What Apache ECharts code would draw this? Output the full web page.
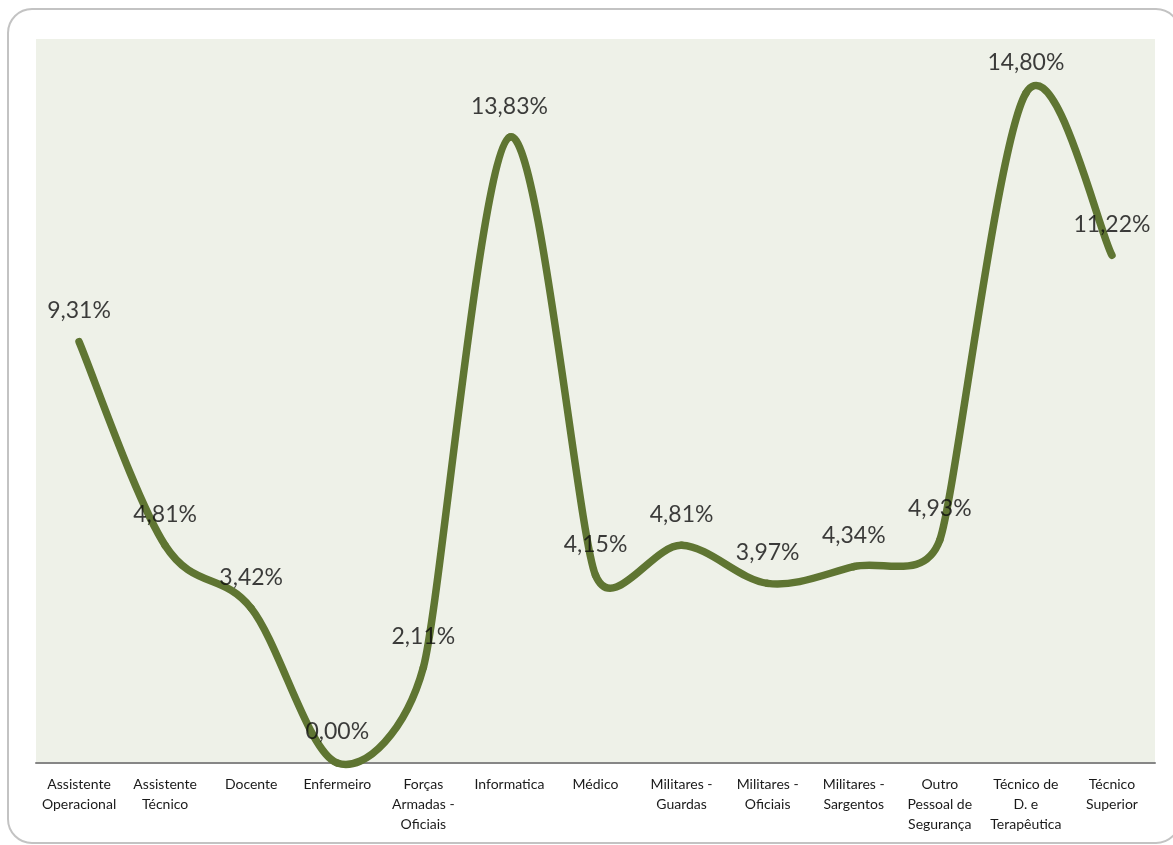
<!DOCTYPE html>
<html>
<head>
<meta charset="utf-8">
<script src="https://cdn.jsdelivr.net/npm/echarts@6/dist/echarts.min.js"></script>
<style>
html,body{margin:0;padding:0;background:#fff;}
#chart{width:1173px;height:845px;}
</style>
</head>
<body>
<div id="chart"></div>
<script>
const categories = [
  "Assistente\nOperacional", "Assistente\nTécnico", "Docente", "Enfermeiro",
  "Forças\nArmadas -\nOficiais", "Informatica", "Médico", "Militares -\nGuardas",
  "Militares -\nOficiais", "Militares -\nSargentos", "Outro\nPessoal de\nSegurança",
  "Técnico de\nD. e\nTerapêutica", "Técnico\nSuperior"
];
const values = [9.31, 4.81, 3.42, 0.00, 2.11, 13.83, 4.15, 4.81, 3.97, 4.34, 4.93, 14.80, 11.22];

const chart = echarts.init(document.getElementById('chart'), null, {renderer: 'canvas'});
const font = 'Lato, "Open Sans", "Liberation Sans", sans-serif';
const lineColor = '#5f7532';

function dist(a, b) { return Math.hypot(a[0] - b[0], a[1] - b[1]); }
// Control-point factor: Catmull-Rom tension 1/6, limited to half the shorter adjacent chord
function factor(prev, cur, next) {
  const d02 = dist(prev, next);
  if (d02 === 0) return 0;
  const ds = [dist(prev, cur), dist(cur, next)].filter(d => d > 0);
  const lim = Math.min.apply(null, ds) / 2;
  let f = 1 / 6;
  if (d02 * f > lim) f = lim / d02;
  return f;
}

// Excel-like smoothed curve, one Bezier segment per data item
function renderSegment(params, api) {
  const i = params.dataIndex;
  const n = values.length;
  if (i >= n - 1) return null;
  const pt = k => { const j = Math.max(0, Math.min(n - 1, k)); return api.coord([j, values[j]]); };
  const p0 = pt(i - 1), p1 = pt(i), p2 = pt(i + 1), p3 = pt(i + 2);
  const f1 = factor(p0, p1, p2), f2 = factor(p1, p2, p3);
  const c1 = [p1[0] + (p2[0] - p0[0]) * f1, p1[1] + (p2[1] - p0[1]) * f1];
  const c2 = [p2[0] - (p3[0] - p1[0]) * f2, p2[1] - (p3[1] - p1[1]) * f2];
  return {
    type: 'bezierCurve',
    shape: {x1: p1[0], y1: p1[1], x2: p2[0], y2: p2[1], cpx1: c1[0], cpy1: c1[1], cpx2: c2[0], cpy2: c2[1]},
    style: {fill: null, stroke: lineColor, lineWidth: 7.5, lineCap: 'round'}
  };
}

chart.setOption({
  backgroundColor: '#ffffff',
  animation: false,
  graphic: [{
    type: 'rect',
    shape: {x: 8, y: 9, width: 1172, height: 834, r: 24},
    style: {fill: 'none', stroke: '#c3c3c3', lineWidth: 2},
    z: 100
  }],
  grid: {left: 36, top: 39, right: 18, bottom: 82, show: true, backgroundColor: '#eef1e8', borderWidth: 0},
  xAxis: {
    type: 'category',
    data: categories,
    boundaryGap: true,
    axisLine: {lineStyle: {color: '#868686', width: 2}},
    axisTick: {show: false},
    axisLabel: {color: '#1a1a1a', fontSize: 14, fontFamily: font, lineHeight: 20, interval: 0, margin: 11}
  },
  yAxis: {
    type: 'value', min: 0, max: 16,
    show: false,
    splitLine: {show: false}
  },
  series: [{
    type: 'custom',
    data: values.map((v, i) => [i, v]),
    renderItem: renderSegment,
    encode: {x: 0, y: 1},
    clip: false,
    z: 2
  }, {
    type: 'scatter',
    data: values,
    symbolSize: 1,
    itemStyle: {color: 'rgba(0,0,0,0)'},
    label: {
      show: true, position: 'top', distance: 19,
      color: '#0d0d0d', fontSize: 23, fontFamily: font,
      formatter: p => p.value.toFixed(2).replace('.', ',') + '%'
    },
    labelLayout: {hideOverlap: false},
    z: 3
  }]
});
</script>
</body>
</html>
